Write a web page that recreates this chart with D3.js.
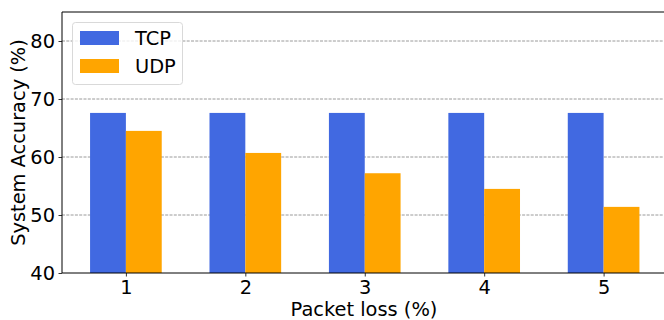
<!DOCTYPE html>
<html><head><meta charset="utf-8">
<script src="https://cdn.jsdelivr.net/npm/d3@7"></script>
<style>body{margin:0;background:#fff}svg{display:block}text{font-family:"DejaVu Sans",sans-serif}</style>
</head><body><svg id="c" width="664" height="320"></svg>
<script>
const categories = [1, 2, 3, 4, 5];
const seriesNames = ["TCP", "UDP"];
const tcpValues = [67.6, 67.6, 67.6, 67.6, 67.6];
const udpValues = [64.5, 60.7, 57.2, 54.5, 51.4];
const yTicks = [40, 50, 60, 70, 80];
const colors = ["#4169E1", "#FFA500"];

const svg = d3.select("#c");
const x = d3.scaleLinear().domain([0.465, 5.535]).range([62, 667.5]);
const y = d3.scaleLinear().domain([40, 85]).range([273, 12]);
const fs = 19.4;

// grid
svg.append("g").selectAll("line").data(yTicks.filter(d => d > 40)).join("line")
  .attr("x1", 62).attr("x2", 664).attr("y1", d => y(d)).attr("y2", d => y(d))
  .attr("stroke", "#808080").attr("stroke-width", 0.8).attr("stroke-dasharray", "3,1.3");

const bw = 0.3;
const series = [tcpValues, udpValues];
series.forEach((vals, si) => {
  svg.append("g").selectAll("rect").data(categories).join("rect")
    .attr("x", (d) => x(d - bw + si * bw))
    .attr("width", x(bw) - x(0))
    .attr("y", (d, i) => y(vals[i]))
    .attr("height", (d, i) => y(40) - y(vals[i]))
    .attr("fill", colors[si]);
});

// axes
const xa = svg.append("g").attr("transform", "translate(0,273)")
  .call(d3.axisBottom(x).tickValues(categories).tickFormat(d3.format("d")).tickSize(3.5).tickPadding(3.5));
const ya = svg.append("g").attr("transform", "translate(62,0)")
  .call(d3.axisLeft(y).tickValues(yTicks).tickSize(3.5).tickPadding(3.5));
[xa, ya].forEach(a => {
  a.select(".domain").remove();
  a.selectAll("line").attr("stroke", "#000").attr("stroke-width", 0.8);
  a.selectAll("text").attr("font-size", fs).attr("fill", "#000").attr("font-family", "DejaVu Sans");
});
// spines
svg.append("line").attr("x1", 62).attr("x2", 62).attr("y1", 12).attr("y2", 273).attr("stroke", "#000").attr("stroke-width", 1);
svg.append("line").attr("x1", 62).attr("x2", 664).attr("y1", 273).attr("y2", 273).attr("stroke", "#000").attr("stroke-width", 1);
svg.append("line").attr("x1", 62).attr("x2", 664).attr("y1", 12).attr("y2", 12).attr("stroke", "#000").attr("stroke-width", 1);

// labels
svg.append("text").attr("x", 364).attr("y", 316).attr("text-anchor", "middle")
  .attr("font-size", fs).text("Packet loss (%)");
svg.append("text").attr("transform", "translate(25,142.5) rotate(-90)").attr("text-anchor", "middle")
  .attr("font-size", fs).text("System Accuracy (%)");

// legend
const lg = svg.append("g");
lg.append("rect").attr("x", 72.5).attr("y", 22.5).attr("width", 110).attr("height", 62).attr("rx", 3)
  .attr("fill", "#fff").attr("fill-opacity", 0.8).attr("stroke", "#d9d9d9").attr("stroke-width", 1);
seriesNames.forEach((n, i) => {
  lg.append("rect").attr("x", 80).attr("y", 31 + i * 28).attr("width", 39).attr("height", 14).attr("fill", colors[i]);
  lg.append("text").attr("x", 135).attr("y", 45 + i * 28).attr("font-size", fs).text(n);
});
</script></body></html>
